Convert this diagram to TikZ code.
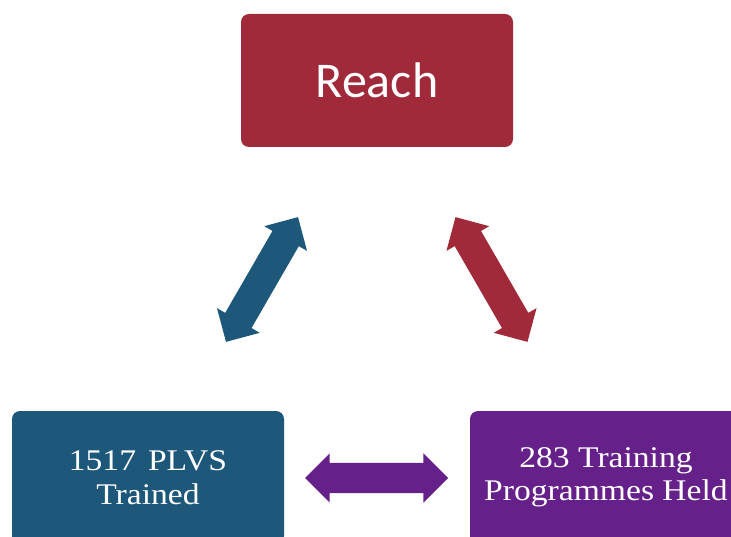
\documentclass[tikz,border=0pt]{standalone}
\usepackage{fontspec}
\usetikzlibrary{shapes.arrows}
\newfontfamily\calibfont{Carlito}
\newfontfamily\cambfont[FakeStretch=1.12]{Liberation Serif}
\definecolor{reachred}{HTML}{A0293A}
\definecolor{plvsblue}{HTML}{1D5779}
\definecolor{progpurple}{HTML}{65208A}
\tikzset{
  box/.style={rectangle, rounded corners=8pt, draw=none, text=white,
    minimum width=272pt, minimum height=133pt, inner sep=0pt, align=center},
  dblarrow/.style={double arrow, draw=none, inner xsep=0pt, inner ysep=15pt,
    minimum height=144pt,
    double arrow head extend=9.5pt}
}
\begin{document}
\begin{tikzpicture}[x=1pt,y=-1pt]
  \useasboundingbox (0,0) rectangle (731,537);
  \clip (0,0) rectangle (731,537);
  \node[box, fill=reachred, font=\calibfont\fontsize{50}{60}\selectfont] (reach) at (377,80.5) {Reach};
  \node[box, fill=plvsblue, font=\cambfont\fontsize{30}{33.5}\selectfont] (plvs) at (148,477.5) {1517\hspace{0.4em}PLVS\\Trained};
  \node[box, fill=progpurple, font=\cambfont\fontsize{30}{33.5}\selectfont] (prog) at (606,477.5) {283 Training\\Programmes Held};
  \node[dblarrow, fill=plvsblue, rotate=60] (a1) at (262,279.5) {};
  \node[dblarrow, fill=reachred, rotate=-60] (a2) at (491.5,279.5) {};
  \node[dblarrow, fill=progpurple, minimum height=143pt] (a3) at (376.5,478) {};
\end{tikzpicture}
\end{document}
